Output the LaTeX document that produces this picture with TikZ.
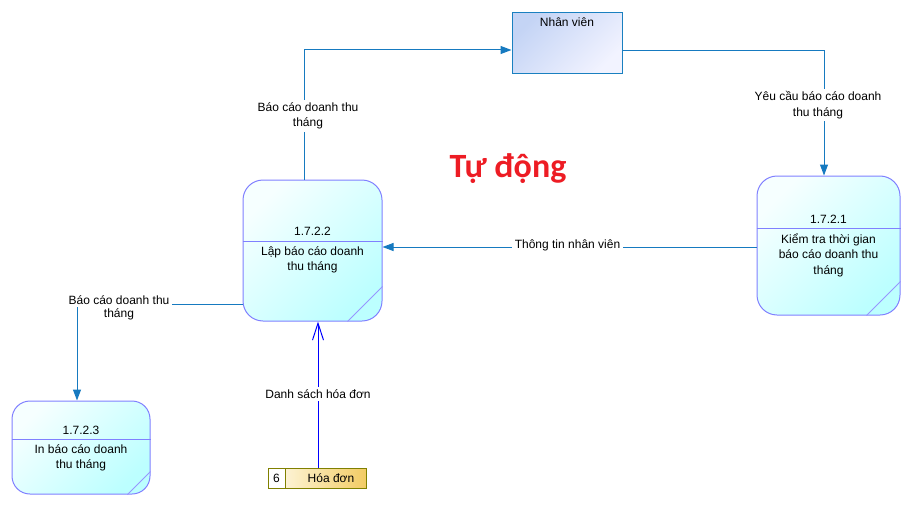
\documentclass[tikz,border=0pt]{standalone}
\usepackage{fontspec}
\setmainfont{Liberation Sans}
\newfontfamily\headfont{Carlito}
\usetikzlibrary{arrows.meta,calc}
\definecolor{flow}{RGB}{22,122,192}
\definecolor{dataflow}{RGB}{0,0,255}
\definecolor{procline}{RGB}{128,128,255}
\definecolor{procdiag}{RGB}{150,150,255}
\definecolor{proctop}{RGB}{246,255,255}
\definecolor{procbot}{RGB}{188,255,255}
\definecolor{enttop}{RGB}{196,212,245}
\definecolor{entbot}{RGB}{242,243,255}
\definecolor{entline}{RGB}{26,128,192}
\definecolor{storeline}{RGB}{128,128,0}
\definecolor{storeleft}{RGB}{255,251,235}
\definecolor{storeright}{RGB}{242,204,100}
\definecolor{headred}{RGB}{237,28,36}
\begin{document}
\begin{tikzpicture}[x=1pt,y=-1pt,
  txt/.style={font=\fontsize{12}{15.5}\selectfont, text=black, align=center, inner sep=0pt},
  lbl/.style={txt, fill=white, inner sep=2.5pt},
  proc/.style={draw=procline, line width=1pt, rounded corners=20pt,
    top color=proctop, bottom color=procbot, shading angle=45, inner sep=0pt},
  entity/.style={draw=entline, line width=1pt,
    top color=enttop, bottom color=entbot, shading angle=45,
    minimum width=110pt, minimum height=60pt, inner sep=0pt},
  store/.style={draw=storeline, line width=1pt, left color=storeleft, right color=storeright,
    minimum width=98pt, minimum height=20pt, inner sep=0pt},
  storecell/.style={draw=storeline, line width=1pt, fill=white,
    minimum width=17pt, minimum height=20pt, inner sep=0pt},
  divider/.style={draw=procline, line width=1pt},
  corner/.style={draw=procdiag, line width=0.8pt},
  flowarrow/.style={draw=flow, line width=1pt, -{Triangle[length=11pt,width=8pt]}},
  dataarrow/.style={draw=dataflow, line width=1pt, -{Straight Barb[length=17pt,width=11pt]}}
]
\useasboundingbox (0,0) rectangle (917,511);

% external entity
\node[entity] (ent) at (567,43) {};
\node[txt] (entname) at (567,22) {Nhân viên};

% processes
\node[proc, minimum width=139pt, minimum height=141pt] (p2) at (312.5,250.5) {};
\node[proc, minimum width=143pt, minimum height=139pt] (p1) at (828.5,245.5) {};
\node[proc, minimum width=138pt, minimum height=93pt, rounded corners=18pt] (p3) at (81,447.5) {};

% process dividers and folded corners
\draw[divider] ($(p2.north west)+(0,62)$) -- ($(p2.north east)+(0,62)$);
\draw[divider] ($(p1.north west)+(0,53)$) -- ($(p1.north east)+(0,53)$);
\draw[divider] ($(p3.north west)+(0,39)$) -- ($(p3.north east)+(0,39)$);
\draw[corner] ($(p2.south east)+(-35,0)$) -- ($(p2.south east)+(0,-35)$);
\draw[corner] ($(p1.south east)+(-34,0)$) -- ($(p1.south east)+(0,-34)$);
\draw[corner] ($(p3.south east)+(-23,0)$) -- ($(p3.south east)+(0,-23)$);

\node[txt] (p2id) at (312.5,231.5) {1.7.2.2};
\node[txt] (p2name) at (312.5,260) {Lập báo cáo doanh\\thu tháng};
\node[txt] (p1id) at (828.5,219) {1.7.2.1};
\node[txt] (p1name) at (828.5,255) {Kiểm tra thời gian\\báo cáo doanh thu\\tháng};
\node[txt] (p3id) at (81,430) {1.7.2.3};
\node[txt] (p3name) at (81,458) {In báo cáo doanh\\thu tháng};

% data store
\node[store] (store) at (317,478) {};
\node[storecell, anchor=west] (storeid) at (store.west) {};
\node[txt] (storeno) at (storeid) {6};
\node[txt] (storename) at (331,478) {Hóa đơn};

% heading
\node[font=\headfont\bfseries\fontsize{34}{40}\selectfont, text=headred, inner sep=0pt] (head) at (508,169) {Tự động};

% flows
\draw[flowarrow] ([xshift=-8.5pt]p2.north) |- ([yshift=-7pt]ent.west);
\node[lbl] (f1) at (308,116) {Báo cáo doanh thu\\tháng};

\draw[flowarrow] ([yshift=-8pt]ent.east) -| ([xshift=-4.5pt]p1.north);
\node[lbl] (f2) at (818,105) {Yêu cầu báo cáo doanh\\thu tháng};

\coordinate (m1) at ([yshift=-1.5pt]p1.west);
\draw[flowarrow] (m1) -- (m1 -| p2.east);
\node[lbl] (f3) at (567.5,245) {Thông tin nhân viên};

\draw[flowarrow] ([yshift=-53.5pt]p2.west) -| ([xshift=-4pt]p3.north);
\node[lbl, label={[txt, label distance=1.5pt]below:tháng}] (f4) at (119,300) {Báo cáo doanh thu};

\coordinate (s1) at ([xshift=1pt]store.north);
\draw[dataarrow] (s1) -- (s1 |- p2.south);
\node[lbl] (f5) at (318,394) {Danh sách hóa đơn};
\end{tikzpicture}
\end{document}
